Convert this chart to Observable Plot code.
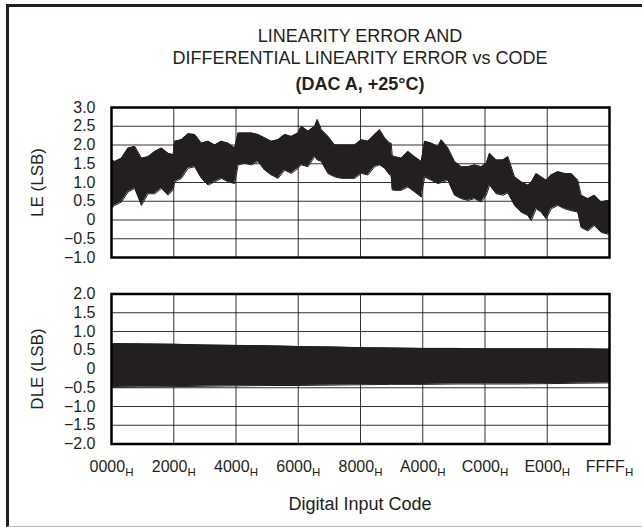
<!DOCTYPE html>
<html><head><meta charset="utf-8">
<script src="https://cdn.jsdelivr.net/npm/d3@7"></script>
<script src="https://cdn.jsdelivr.net/npm/@observablehq/plot@0.6"></script>
<style>
html,body{margin:0;padding:0;background:#fff;}
#wrap{position:relative;width:642px;height:527px;overflow:hidden;font-family:"Liberation Sans",Arial,sans-serif;color:#231f20;}
#frame{position:absolute;left:6px;top:4px;width:660px;height:519px;border-top:3px solid #231f20;border-left:3px solid #231f20;border-bottom:1px solid #bbb;}
.t{position:absolute;left:111px;width:498px;text-align:center;font-size:18px;line-height:20px;white-space:nowrap;}
.p{position:absolute;left:0;}
</style></head>
<body>
<div id="wrap">
  <div id="frame"></div>
  <div class="t" style="top:26px">LINEARITY ERROR AND</div>
  <div class="t" style="top:47.5px">DIFFERENTIAL LINEARITY ERROR vs CODE</div>
  <div class="t" style="top:74px;font-weight:bold">(DAC A, +25°C)</div>
  <div class="p" id="p1" style="top:90px"></div>
  <div class="p" id="p2" style="top:280px"></div>
  <div class="t" style="top:494px">Digital Input Code</div>
</div>
<script>
// X axis ticks (digital input codes)
const xTickCodes = [0x0000, 0x2000, 0x4000, 0x6000, 0x8000, 0xA000, 0xC000, 0xE000, 0xFFFF];
const xTickLabels = ["0000", "2000", "4000", "6000", "8000", "A000", "C000", "E000", "FFFF"];
const leYTicks = [-1, -0.5, 0, 0.5, 1, 1.5, 2, 2.5, 3];
const dleYTicks = [-2, -1.5, -1, -0.5, 0, 0.5, 1, 1.5, 2];

// LE envelope (upper/lower extent of the noisy trace)
const leCode = [0,438,1315,2192,3069,3945,4822,5699,6575,7452,8110,
  8329,9206,10082,10959,11836,12712,13589,14466,15343,16219,
  16658,17534,18411,19288,20165,21041,21918,22795,23671,24548,
  24987,25863,26740,27091,27617,28493,29370,30247,31124,32000,
  32877,33754,34630,35288,35946,36603,36800,36950,37261,38138,39014,39891,40768,
  41206,42083,42959,43398,44274,45151,46028,46905,47781,48658,49316,
  49754,50631,51507,52165,53042,53918,54795,55233,55891,56548,57206,
  57864,58740,59617,60494,61370,61809,62686,63562,64439,65315,65535];
const leHigh = [1.60,1.56,1.65,1.92,1.96,1.65,1.69,1.83,1.92,1.78,1.74,
  2.10,2.14,2.30,2.28,2.05,2.10,2.00,2.10,2.05,1.92,
  2.32,2.32,2.32,2.28,2.19,2.10,2.14,2.28,2.23,2.32,
  2.50,2.37,2.50,2.68,2.41,2.23,2.00,2.00,2.00,2.00,
  2.14,2.10,2.28,2.41,2.19,2.05,2.05,1.72,1.69,1.65,1.83,1.69,1.56,
  2.10,2.05,1.96,2.14,1.92,1.56,1.42,1.42,1.47,1.42,1.51,
  1.78,1.60,1.60,1.69,1.15,1.02,0.93,1.00,1.24,1.15,1.06,
  1.20,1.29,1.24,1.24,1.06,0.66,0.57,0.66,0.48,0.52,0.50];
const leLow = [0.30,0.39,0.48,0.75,0.84,0.39,0.70,0.70,0.84,0.66,0.80,
  1.02,1.11,1.38,1.42,1.11,0.93,1.02,1.11,1.02,0.97,
  1.47,1.51,1.47,1.56,1.33,1.20,1.11,1.33,1.24,1.38,
  1.47,1.42,1.69,1.60,1.56,1.24,1.15,1.11,1.11,1.11,
  1.24,1.20,1.42,1.47,1.38,1.20,1.20,0.80,0.79,0.79,0.88,0.75,0.61,
  1.15,1.06,0.97,1.00,1.06,0.66,0.57,0.52,0.57,0.48,0.66,
  0.93,0.70,0.66,0.72,0.39,0.21,0.12,-0.02,0.30,0.21,0.03,
  0.30,0.39,0.30,0.25,0.21,-0.20,-0.29,-0.15,-0.33,-0.38,-0.36];

// DLE envelope
const dleCode = [0,4096,8192,12288,16384,20480,24576,28672,32768,36864,40960,45056,49152,53248,57344,61440,65535];
const dleHigh = [0.68,0.67,0.66,0.64,0.63,0.62,0.60,0.59,0.57,0.56,0.55,0.55,0.54,0.54,0.54,0.54,0.53];
const dleLow = [-0.49,-0.48,-0.47,-0.46,-0.45,-0.44,-0.44,-0.43,-0.42,-0.41,-0.41,-0.40,-0.40,-0.40,-0.39,-0.38,-0.37];

const le = leCode.map((c, i) => ({code: c, hi: leHigh[i], lo: leLow[i]}));
const dle = dleCode.map((c, i) => ({code: c, hi: dleHigh[i], lo: dleLow[i]}));

const font = '"Liberation Sans", Arial, sans-serif';
const ink = "#231f20";
const fmtY = d => d === 0 ? "0" : (d < 0 ? "\u2212" : "") + Math.abs(d).toFixed(1);
const gridStyle = {stroke: "#000", strokeOpacity: 0.8, strokeWidth: 1};

function panel(data, domain, yTicks, yLabel, opts) {
  return Plot.plot({
    width: 642,
    height: opts.height,
    marginLeft: 111,
    marginRight: 33,
    marginTop: opts.mt,
    marginBottom: opts.mb,
    style: {fontFamily: font, fontSize: "16px", color: ink, background: "transparent"},
    x: {domain: [0, 0xFFFF], axis: null},
    y: {domain, axis: null},
    marks: [
      Plot.gridX(xTickCodes, gridStyle),
      Plot.gridY(yTicks, gridStyle),
      Plot.areaY(data, {x: "code", y1: "lo", y2: "hi", fill: ink, curve: "linear"}),
      Plot.lineY(data, {x: "code", y: "hi", stroke: ink, strokeWidth: 1}),
      Plot.lineY(data, {x: "code", y: "lo", stroke: ink, strokeWidth: 1}),
      Plot.frame({stroke: "#000", strokeWidth: 2.5}),
      Plot.axisY(yTicks, {tickSize: 0, tickPadding: 16, tickFormat: fmtY, fontSize: 16, label: null}),
      Plot.axisY({label: yLabel, ticks: [], tickSize: 0, labelAnchor: "center", labelArrow: "none",
        labelOffset: 81, fontSize: 17}),
      opts.xAxis
        ? Plot.axisX(xTickCodes, {tickSize: 0, tickPadding: 17, fontSize: 16, label: null,
            tickFormat: d => xTickLabels[xTickCodes.indexOf(d)]})
        : null
    ]
  });
}

const p1 = panel(le, [-1, 3], leYTicks, "LE (LSB)", {height: 180, mt: 17, mb: 13, xAxis: false});
const p2 = panel(dle, [-2, 2], dleYTicks, "DLE (LSB)", {height: 200, mt: 13.5, mb: 36.5, xAxis: true});
document.getElementById("p1").appendChild(p1);
document.getElementById("p2").appendChild(p2);

// Add the subscript "H" to the hexadecimal tick labels
p2.querySelectorAll('g[aria-label="x-axis tick label"] text').forEach(t => {
  const s = document.createElementNS("http://www.w3.org/2000/svg", "tspan");
  s.setAttribute("font-size", "11.5");
  s.setAttribute("dy", "3.5");
  s.textContent = "H";
  t.appendChild(s);
});
</script>
</body></html>
